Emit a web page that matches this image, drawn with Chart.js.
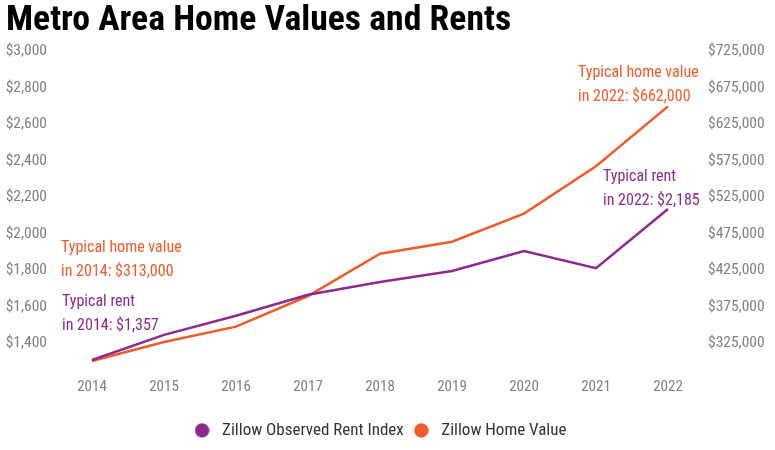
<!DOCTYPE html>
<html><head><meta charset="utf-8">
<script src="https://cdn.jsdelivr.net/npm/chart.js@4.4.1/dist/chart.umd.min.js"></script>
<style>html,body{margin:0;padding:0;background:#fff}#wrap{width:775px;height:450px;position:relative}canvas{display:block}</style>
</head><body><div id="wrap"><canvas id="c" width="775" height="450"></canvas></div>
<script>
const years = ['2014','2015','2016','2017','2018','2019','2020','2021','2022'];
const rentValues = [1357,1495,1600,1715,1785,1845,1955,1861,2185];
const homeValues = [313000,339000,360000,402000,460000,476500,515000,580000,662000];
const rentTicks = [1400,1600,1800,2000,2200,2400,2600,2800,3000];
const homeTicks = [325000,375000,425000,475000,525000,575000,625000,675000,725000];
const seriesNames = ['Zillow Observed Rent Index','Zillow Home Value'];
const titleText = 'Metro Area Home Values and Rents';
const notes = [
  {ds:1, idx:0, lines:['Typical home value','in 2014: $313,000']},
  {ds:0, idx:0, lines:['Typical rent','in 2014: $1,357']},
  {ds:1, idx:8, lines:['Typical home value','in 2022: $662,000']},
  {ds:0, idx:8, lines:['Typical rent','in 2022: $2,185']}
];
const noteOffsets = [[-31,-113],[-30,-58],[-90,-33],[-65,-32]];

const PURPLE = '#8c2a8f', ORANGE = '#f15a29';
const FAM = "'Roboto Condensed', Roboto, sans-serif";
const money = v => '$' + Number(v).toLocaleString('en-US');

function dot(color) {
  const c = document.createElement('canvas');
  c.width = 15; c.height = 15;
  const g = c.getContext('2d');
  g.fillStyle = color;
  g.beginPath(); g.arc(7.5, 7.5, 7.2, 0, Math.PI * 2); g.fill();
  return c;
}

const notePlugin = {
  id: 'notes',
  afterLayout(chart) {
    if (chart.legend) { chart.legend.right -= 24; }
  },
  afterDraw(chart) {
    const ctx = chart.ctx;
    ctx.save();
    ctx.font = 'condensed 16px ' + FAM;
    ctx.textAlign = 'left';
    ctx.textBaseline = 'middle';
    notes.forEach((n, i) => {
      const pt = chart.getDatasetMeta(n.ds).data[n.idx];
      ctx.fillStyle = n.ds === 0 ? PURPLE : ORANGE;
      n.lines.forEach((t, j) => {
        ctx.fillText(t, pt.x + noteOffsets[i][0], pt.y + noteOffsets[i][1] + j * 24);
      });
    });
    ctx.restore();
  }
};

const noGrid = {display: false, drawTicks: false};

new Chart(document.getElementById('c'), {
  type: 'line',
  data: {
    labels: years,
    datasets: [
      {label: seriesNames[0], data: rentValues, yAxisID: 'yL', borderColor: PURPLE, backgroundColor: PURPLE, borderWidth: 2.5, pointRadius: 0, pointStyle: dot(PURPLE), tension: 0},
      {label: seriesNames[1], data: homeValues, yAxisID: 'yR', borderColor: ORANGE, backgroundColor: ORANGE, borderWidth: 2.5, pointRadius: 0, pointStyle: dot(ORANGE), tension: 0}
    ]
  },
  options: {
    responsive: false,
    animation: false,
    devicePixelRatio: 1,
    layout: {padding: {left: 6, right: 0, top: 0, bottom: 1}},
    plugins: {
      title: {display: true, text: titleText, align: 'start', color: '#000',
        font: {family: FAM, size: 35.7, weight: 'condensed bold', lineHeight: 1.2}, padding: {top: 0, bottom: 17.6}},
      legend: {position: 'bottom', labels: {usePointStyle: true, pointStyleWidth: 23, boxHeight: 10, padding: 6, color: '#333',
        font: {family: FAM, size: 17, weight: 'condensed'}}},
      tooltip: {enabled: false}
    },
    scales: {
      x: {grid: noGrid, border: {display: false},
        ticks: {color: '#808080', padding: 8, maxRotation: 0, font: {family: FAM, size: 15, weight: 'condensed'}},
        afterFit(a) { a.height = 45.6; }},
      yL: {position: 'left', min: 1300, max: 3000, grid: noGrid, border: {display: false},
        afterBuildTicks(a) { a.ticks = rentTicks.map(v => ({value: v})); },
        afterFit(a) { a.width = 86; },
        ticks: {color: '#808080', padding: 45, labelOffset: -9, callback: money, font: {family: FAM, size: 15.5, weight: 'condensed'}}},
      yR: {position: 'right', min: 300000, max: 725000, grid: noGrid, border: {display: false},
        afterBuildTicks(a) { a.ticks = homeTicks.map(v => ({value: v})); },
        afterFit(a) { a.width = 107; },
        ticks: {color: '#808080', padding: 40, labelOffset: -9, callback: money, font: {family: FAM, size: 15.5, weight: 'condensed'}}}
    }
  },
  plugins: [notePlugin]
});
</script></body></html>
